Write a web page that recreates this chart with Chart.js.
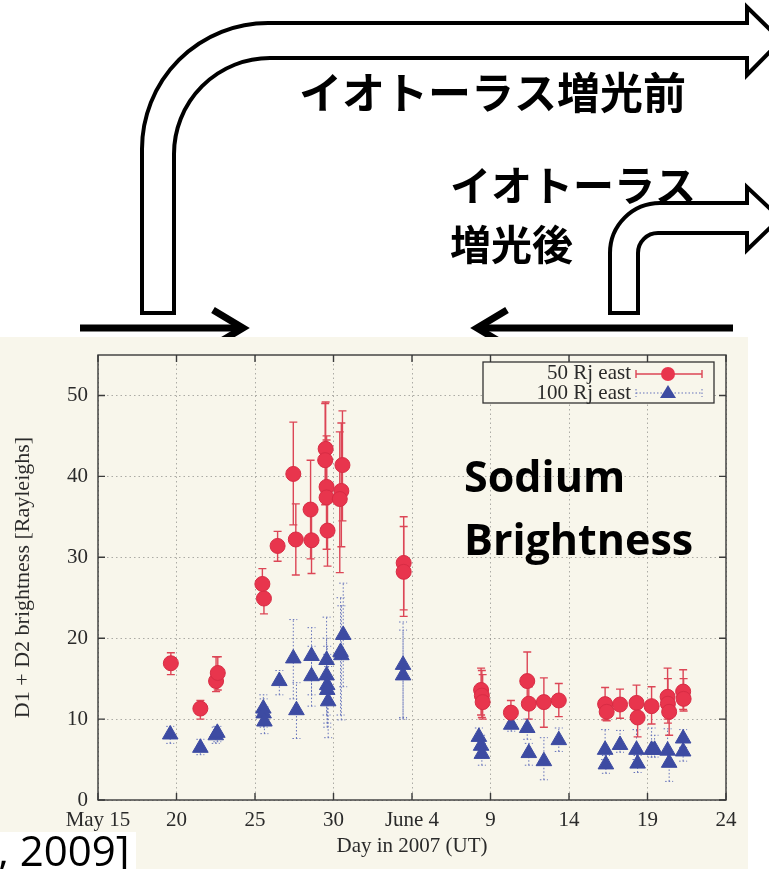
<!DOCTYPE html>
<html>
<head>
<meta charset="utf-8">
<script src="https://cdn.jsdelivr.net/npm/chart.js@4.4.1/dist/chart.umd.min.js"></script>
<style>
  html, body { margin: 0; padding: 0; background: #fff; }
  canvas { display: block; }
</style>
</head>
<body>
<canvas id="chart" width="769" height="869"></canvas>
<script>
// x = days since May 15, 2007
const xTickLabels = ['May 15', '20', '25', '30', 'June 4', '9', '14', '19', '24'];

// 50 Rj east
const days50 = [4.64, 6.52, 7.52, 7.63, 10.47, 10.57, 11.44, 12.44, 12.6, 13.54, 13.6, 14.5, 14.47, 14.56, 14.56, 14.62,
  15.57, 15.5, 15.4, 19.47, 19.47, 24.4, 24.45, 24.5, 26.3, 27.34, 27.44, 28.4, 29.35, 32.3, 32.4, 33.25, 34.3, 34.37,
  35.26, 36.28, 36.3, 36.38, 37.27, 37.3];
const east50 = [16.9, 11.3, 14.7, 15.7, 26.7, 24.9, 31.4, 40.3, 32.2, 35.9, 32.1, 43.4, 42.0, 38.7, 37.4, 33.3,
  41.4, 38.2, 37.2, 29.3, 28.2, 13.6, 12.9, 12.1, 10.8, 14.7, 11.9, 12.1, 12.3, 11.85, 10.9, 11.8, 12.0, 10.2,
  11.6, 12.75, 11.9, 10.9, 13.4, 12.5];
const east50Low = [15.5, 10.0, 13.4, 13.6, 24.5, 23.0, 29.5, 34.0, 27.8, 29.8, 28.0, 38.0, 36.5, 33.0, 31.0, 28.9,
  34.5, 31.3, 28.1, 23.5, 22.7, 10.5, 10.2, 10.0, 9.6, 11.5, 10.0, 9.0, 10.3, 9.9, 9.8, 10.1, 9.8, 7.8,
  9.4, 10.0, 9.5, 8.0, 11.2, 11.0];
const east50High = [18.2, 12.3, 17.7, 17.7, 28.6, 26.8, 33.2, 46.7, 36.6, 42.0, 36.0, 49.2, 49.0, 45.0, 44.5, 38.0,
  48.1, 46.6, 45.5, 35.0, 33.8, 16.3, 16.0, 15.5, 12.3, 18.3, 14.0, 15.1, 14.4, 13.9, 12.5, 13.7, 14.2, 12.6,
  14.0, 16.3, 15.0, 13.4, 16.1, 15.0];

// 100 Rj east
const days100 = [4.6, 6.52, 7.5, 7.6, 10.53, 10.55, 10.6, 11.55, 12.44, 12.64, 13.6, 13.6, 14.56, 14.56, 14.6, 14.6,
  14.66, 15.62, 15.45, 15.5, 19.43, 19.43, 24.26, 24.4, 24.45, 26.32, 27.34, 27.44, 28.4, 29.35, 32.3, 32.35,
  33.25, 34.3, 34.37, 35.26, 35.45, 36.28, 36.38, 37.27, 37.27];
const east100 = [8.1, 6.45, 8.0, 8.3, 11.3, 10.7, 9.7, 14.7, 17.5, 11.1, 17.8, 15.3, 17.3, 15.4, 14.2, 13.6,
  12.2, 20.4, 18.3, 17.9, 16.7, 15.4, 7.8, 6.7, 5.7, 9.3, 8.9, 5.8, 4.8, 7.4, 6.2, 4.4,
  6.8, 6.2, 4.5, 6.2, 6.2, 6.1, 4.6, 7.6, 6.0];
const east100Low = [7.0, 5.6, 7.0, 7.2, 9.5, 9.0, 8.2, 13.0, 12.5, 7.6, 13.0, 11.6, 12.0, 10.5, 9.5, 9.0,
  7.7, 14.0, 10.5, 9.9, 10.0, 10.2, 6.5, 5.2, 4.3, 8.5, 7.5, 4.3, 2.5, 6.0, 5.0, 3.3,
  5.9, 5.0, 3.4, 5.3, 5.3, 4.5, 2.3, 6.5, 4.8];
const east100High = [9.1, 7.5, 9.0, 9.1, 13.0, 12.5, 11.5, 16.0, 22.3, 14.5, 21.3, 19.0, 22.6, 20.0, 19.0, 18.0,
  16.5, 26.8, 25.0, 24.0, 22.0, 21.0, 8.9, 8.0, 7.0, 10.0, 10.0, 7.0, 7.7, 8.9, 8.7, 5.5,
  8.6, 8.7, 5.5, 8.9, 8.0, 8.8, 6.0, 8.7, 7.2];

const RED = '#e8354d';
const BLUE = '#3d4ba2';
const SERIF = '"Liberation Serif", "DejaVu Serif", serif';

function drawErrorBars(ctx, xs, ys, days, low, high, color, dash, width) {
  ctx.save();
  ctx.strokeStyle = color;
  ctx.lineWidth = width;
  ctx.setLineDash(dash);
  days.forEach((d, i) => {
    const px = xs.getPixelForValue(d);
    const y1 = ys.getPixelForValue(low[i]);
    const y2 = ys.getPixelForValue(high[i]);
    ctx.beginPath();
    ctx.moveTo(px, y1); ctx.lineTo(px, y2);
    ctx.moveTo(px - 4, y1); ctx.lineTo(px + 4, y1);
    ctx.moveTo(px - 4, y2); ctx.lineTo(px + 4, y2);
    ctx.stroke();
  });
  ctx.restore();
}

// hollow bent arrow, outline only
function bentArrow(ctx, a) {
  ctx.beginPath();
  ctx.moveTo(a.x0, a.bottom);
  ctx.lineTo(a.x0, a.top + a.R);
  ctx.arcTo(a.x0, a.top, a.x0 + a.R, a.top, a.R);
  ctx.lineTo(a.headX, a.top);
  ctx.lineTo(a.headX, a.headTop);
  ctx.lineTo(a.tipX, (a.top + a.inner) / 2);
  ctx.lineTo(a.headX, a.headBottom);
  ctx.lineTo(a.headX, a.inner);
  ctx.lineTo(a.x1 + a.r, a.inner);
  ctx.arcTo(a.x1, a.inner, a.x1, a.inner + a.r, a.r);
  ctx.lineTo(a.x1, a.bottom);
  ctx.closePath();
  ctx.fillStyle = '#fff';
  ctx.fill();
  ctx.stroke();
}

const backdrop = {
  id: 'backdrop',
  beforeDraw(chart) {
    const ctx = chart.ctx;
    ctx.save();
    ctx.fillStyle = '#fff';
    ctx.fillRect(0, 0, chart.width, chart.height);

    ctx.strokeStyle = '#000';
    ctx.lineWidth = 4;
    ctx.lineJoin = 'miter';
    bentArrow(ctx, { x0: 142, x1: 174, top: 23, inner: 58, R: 126, r: 96, bottom: 313,
      headX: 747, headTop: 7, headBottom: 75, tipX: 781 });
    bentArrow(ctx, { x0: 610, x1: 638, top: 203, inner: 233, R: 50, r: 20, bottom: 313,
      headX: 747, headTop: 187, headBottom: 250, tipX: 780 });

    // horizontal arrows
    ctx.lineWidth = 7;
    ctx.lineCap = 'butt';
    ctx.beginPath();
    ctx.moveTo(80, 328); ctx.lineTo(240, 328);
    ctx.moveTo(478, 328); ctx.lineTo(733, 328);
    ctx.stroke();
    ctx.beginPath();
    ctx.moveTo(213, 310); ctx.lineTo(243, 328); ctx.lineTo(213, 346);
    ctx.moveTo(507, 310); ctx.lineTo(477, 328); ctx.lineTo(507, 346);
    ctx.stroke();

    ctx.fillStyle = '#000';
    ctx.textBaseline = 'middle';
    ctx.textAlign = 'left';
    ctx.font = 'bold 43px "Noto Sans CJK JP"';
    ctx.fillText('イオトーラス増光前', 299, 93);
    ctx.font = 'bold 41px "Noto Sans CJK JP"';
    ctx.fillText('イオトーラス', 450, 185);
    ctx.fillText('増光後', 450, 244);

    // scanned plot paper
    ctx.fillStyle = '#f8f6eb';
    ctx.fillRect(0, 337, 748, chart.height - 337);
    ctx.restore();
  }
};

const frameAndErrors = {
  id: 'frameAndErrors',
  beforeDatasetsDraw(chart) {
    const { ctx, chartArea: a, scales: { x, y } } = chart;
    ctx.save();
    ctx.strokeStyle = '#3a3a3a';
    ctx.lineWidth = 1.4;
    ctx.strokeRect(a.left, a.top, a.right - a.left, a.bottom - a.top);
    ctx.beginPath();
    x.ticks.forEach(t => {
      const px = x.getPixelForValue(t.value);
      ctx.moveTo(px, a.bottom); ctx.lineTo(px, a.bottom - 7);
      ctx.moveTo(px, a.top); ctx.lineTo(px, a.top + 7);
    });
    y.ticks.forEach(t => {
      const py = y.getPixelForValue(t.value);
      ctx.moveTo(a.left, py); ctx.lineTo(a.left + 7, py);
      ctx.moveTo(a.right, py); ctx.lineTo(a.right - 7, py);
    });
    ctx.stroke();
    ctx.restore();

    drawErrorBars(ctx, x, y, days100, east100Low, east100High, '#6673bb', [1.5, 2], 1);
    drawErrorBars(ctx, x, y, days50, east50Low, east50High, '#dc4656', [], 1.4);
  }
};

const overlay = {
  id: 'overlay',
  afterDraw(chart) {
    const ctx = chart.ctx;
    ctx.save();
    // legend box
    ctx.fillStyle = '#f8f6eb';
    ctx.fillRect(483, 362, 231, 41);
    ctx.strokeStyle = '#333';
    ctx.lineWidth = 1.3;
    ctx.strokeRect(483, 362, 231, 41);
    ctx.fillStyle = '#2a2a2a';
    ctx.font = '21px ' + SERIF;
    ctx.textAlign = 'right';
    ctx.textBaseline = 'middle';
    ctx.fillText('50 Rj east', 631, 373);
    ctx.fillText('100 Rj east', 631, 393);

    ctx.strokeStyle = '#dc4656';
    ctx.lineWidth = 1.4;
    ctx.beginPath();
    ctx.moveTo(636, 374); ctx.lineTo(702, 374);
    ctx.moveTo(636, 370); ctx.lineTo(636, 378);
    ctx.moveTo(702, 370); ctx.lineTo(702, 378);
    ctx.stroke();
    ctx.fillStyle = RED;
    ctx.beginPath();
    ctx.arc(668, 374, 7, 0, Math.PI * 2);
    ctx.fill();

    ctx.strokeStyle = '#6673bb';
    ctx.lineWidth = 1;
    ctx.setLineDash([1.5, 2]);
    ctx.beginPath();
    ctx.moveTo(636, 393); ctx.lineTo(702, 393);
    ctx.moveTo(636, 389); ctx.lineTo(636, 397);
    ctx.moveTo(702, 389); ctx.lineTo(702, 397);
    ctx.stroke();
    ctx.setLineDash([]);
    ctx.fillStyle = BLUE;
    ctx.beginPath();
    ctx.moveTo(668, 385); ctx.lineTo(676, 398); ctx.lineTo(660, 398);
    ctx.closePath();
    ctx.fill();

    // annotation
    ctx.fillStyle = '#000';
    ctx.textAlign = 'left';
    ctx.textBaseline = 'alphabetic';
    ctx.font = 'bold 43px "Open Sans"';
    ctx.fillText('Sodium', 464, 492);
    ctx.fillText('Brightness', 464, 555);

    // citation
    ctx.fillStyle = '#fff';
    ctx.fillRect(0, 832, 136, 37);
    ctx.fillStyle = '#000';
    ctx.font = '42px "Open Sans"';
    ctx.fillText(', 2009]', -2, 866);
    ctx.restore();
  }
};

new Chart(document.getElementById('chart'), {
  type: 'scatter',
  data: {
    datasets: [
      {
        label: '50 Rj east',
        data: days50.map((d, i) => ({ x: d, y: east50[i] })),
        backgroundColor: RED,
        borderColor: '#d82c44',
        borderWidth: 1,
        pointStyle: 'circle',
        pointRadius: 7.5,
        pointHoverRadius: 7.5
      },
      {
        label: '100 Rj east',
        data: days100.map((d, i) => ({ x: d, y: east100[i] })),
        backgroundColor: BLUE,
        borderColor: BLUE,
        borderWidth: 1,
        pointStyle: 'triangle',
        pointRadius: 9,
        pointHoverRadius: 9
      }
    ]
  },
  options: {
    responsive: false,
    animation: false,
    layout: { padding: { left: 0, right: 43, top: 355, bottom: 0 } },
    plugins: {
      legend: { display: false },
      tooltip: { enabled: false }
    },
    scales: {
      x: {
        type: 'linear',
        min: 0,
        max: 40,
        afterFit: s => { s.height = 69; },
        ticks: {
          stepSize: 5,
          autoSkip: false,
          maxRotation: 0,
          padding: 8,
          color: '#2a2a2a',
          font: { family: SERIF, size: 21 },
          callback: v => xTickLabels[Math.round(v / 5)]
        },
        grid: { color: 'rgba(80,80,80,0.45)', lineWidth: 1, drawTicks: false },
        border: { display: false, dash: [1.5, 3] },
        title: {
          display: true,
          text: 'Day in 2007 (UT)',
          color: '#2a2a2a',
          font: { family: SERIF, size: 21 },
          padding: 10
        }
      },
      y: {
        min: 0,
        max: 55,
        afterFit: s => { s.width = 98; },
        ticks: {
          stepSize: 10,
          includeBounds: false,
          padding: 10,
          color: '#2a2a2a',
          font: { family: SERIF, size: 21 }
        },
        grid: { color: 'rgba(80,80,80,0.45)', lineWidth: 1, drawTicks: false },
        border: { display: false, dash: [1.5, 3] },
        title: {
          display: true,
          text: 'D1 + D2 brightness [Rayleighs]',
          color: '#2a2a2a',
          font: { family: SERIF, size: 22 },
          padding: 10
        }
      }
    }
  },
  plugins: [backdrop, frameAndErrors, overlay]
});
</script>
</body>
</html>
